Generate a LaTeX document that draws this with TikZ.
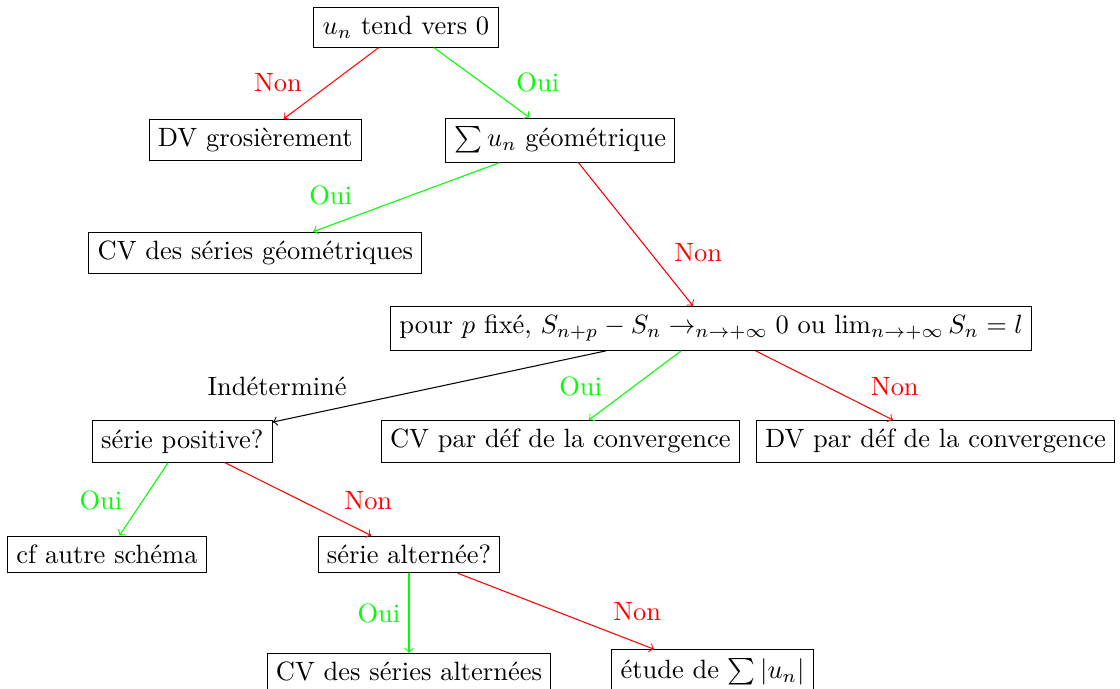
\documentclass[tikz,border=0pt]{standalone}
\begin{document}
\begin{tikzpicture}[box/.style={draw}, oui/.style={color=green}, non/.style={color=red}]
\useasboundingbox (-5.39,0.36) rectangle (9.48,-8.78);
\node[box] (tend) at (0,0) {$u_n$ tend vers 0};
\node[box] (dvg) at (-2,-1.5) {DV grosièrement};
\node[box] (geom) at (2.05,-1.5) {$\sum u_n$ géométrique};
\node[box] (cvgeom) at (-2,-3) {CV des séries géométriques};
\node[box] (cauchy) at (4.05,-4) {pour $p$ fixé, $S_{n+p}-S_n \rightarrow_{n\rightarrow +\infty} 0$ ou $\lim_{n\rightarrow +\infty} S_n = l$};
\node[box] (pos) at (-2.97,-5.5) {série positive?};
\node[box] (cvdef) at (2.05,-5.5) {CV par déf de la convergence};
\node[box] (dvdef) at (7.03,-5.5) {DV par déf de la convergence};
\node[box] (autre) at (-3.97,-7) {cf autre schéma};
\node[box] (alt) at (0.04,-7) {série alternée?};
\node[box] (cvalt) at (0.04,-8.56) {CV des séries alternées};
\node[box] (abs) at (4.07,-8.56) {étude de $\sum |u_n|$};

\node[non] (l1) at (-1.7,-0.73) {Non};
\node[oui] (l2) at (1.75,-0.73) {Oui};
\node[oui] (l3) at (-1,-2.24) {Oui};
\node[non] (l4) at (3.88,-3) {Non};
\node (l5) at (-1.71,-4.77) {Indéterminé};
\node[oui] (l6) at (2.32,-4.77) {Oui};
\node[non] (l7) at (6.49,-4.77) {Non};
\node[oui] (l8) at (-4.05,-6.28) {Oui};
\node[non] (l9) at (-0.5,-6.28) {Non};
\node[oui] (l10) at (-0.36,-7.79) {Oui};
\node[non] (l11) at (3.07,-7.76) {Non};

\path[draw,->,non] (tend) -- (dvg);
\path[draw,->,oui] (tend) -- (geom);
\path[draw,->,oui] (geom) -- (cvgeom);
\path[draw,->,non] (geom) -- (cauchy);
\path[draw,->] (cauchy) -- (pos);
\path[draw,->,oui] (cauchy) -- (cvdef);
\path[draw,->,non] (cauchy) -- (dvdef);
\path[draw,->,oui] (pos) -- (autre);
\path[draw,->,non] (pos) -- (alt);
\path[draw,->,oui] (alt) -- (cvalt);
\path[draw,->,non] (alt) -- (abs);
\end{tikzpicture}
\end{document}
